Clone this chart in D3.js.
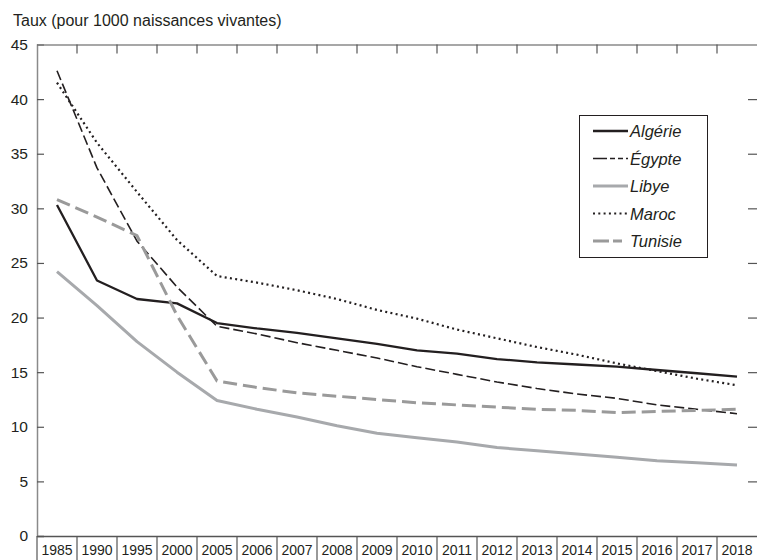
<!DOCTYPE html>
<html><head><meta charset="utf-8">
<script src="https://cdn.jsdelivr.net/npm/d3@7"></script>
<style>
body{margin:0;background:#fff;}
text{font-family:"Liberation Sans",Arial,sans-serif;}
</style></head><body>
<svg id="c" width="757" height="560"></svg>
<script>
const years = ["1985","1990","1995","2000","2005","2006","2007","2008","2009","2010","2011","2012","2013","2014","2015","2016","2017","2018"];
const algerie = [30.3,23.4,21.7,21.3,19.5,19.0,18.6,18.1,17.6,17.0,16.7,16.2,15.9,15.7,15.5,15.2,14.9,14.6];
const egypte  = [42.6,33.7,27.0,22.8,19.2,18.5,17.7,17.0,16.3,15.5,14.8,14.1,13.5,13.0,12.6,12.0,11.6,11.2];
const libye   = [24.2,21.1,17.8,15.0,12.4,11.6,10.9,10.1,9.4,9.0,8.6,8.1,7.8,7.5,7.2,6.9,6.7,6.5];
const maroc   = [41.5,36.0,31.5,27.1,23.8,23.2,22.5,21.7,20.7,19.9,18.9,18.1,17.3,16.6,15.8,15.1,14.4,13.8];
const tunisie = [30.8,29.2,27.5,20.2,14.2,13.6,13.1,12.8,12.5,12.2,12.0,11.8,11.6,11.5,11.3,11.4,11.5,11.6];
const yTicks = [0,5,10,15,20,25,30,35,40,45];
const seriesNames = ["Algérie","Égypte","Libye","Maroc","Tunisie"];
const yTitle = "Taux (pour 1000 naissances vivantes)";

const series = [
  {name:seriesNames[0], values:algerie, color:"#231f20", width:2.3, dash:null, ldash:null},
  {name:seriesNames[1], values:egypte, color:"#231f20", width:1.6, dash:"10,4", ldash:"14,3,5,3,5,3"},
  {name:seriesNames[2], values:libye, color:"#a7a9ac", width:3, dash:null, ldash:null},
  {name:seriesNames[3], values:maroc, color:"#231f20", width:2.2, dash:"2,3.3", ldash:"2,3.3"},
  {name:seriesNames[4], values:tunisie, color:"#9a9a9a", width:3, dash:"14,6", ldash:"16,4,9,6"}
];

const L=37, R=757, T=44.5, B=536;
const svg = d3.select("#c");
const x = d3.scaleBand().domain(years).range([L,R]);
const y = d3.scaleLinear().domain([0,45]).range([B,T]);

// title
svg.append("text").attr("x",13).attr("y",26).attr("font-size",16).attr("fill","#231f20").text(yTitle);

// left axis
const gl = svg.append("g").attr("transform",`translate(${L},0)`)
  .call(d3.axisLeft(y).tickValues(yTicks).tickSize(-7).tickPadding(9));
gl.select(".domain").attr("stroke","#8a8a8a").attr("stroke-width",1.5);
gl.selectAll(".tick line").attr("stroke","#555").attr("stroke-width",1.2);
gl.selectAll(".tick text").attr("font-size",15.5).attr("fill","#231f20").attr("font-family","Liberation Sans, Arial, sans-serif").attr("x",-9);

// right axis ticks
const gr = svg.append("g").attr("transform",`translate(${R},0)`)
  .call(d3.axisRight(y).tickValues(yTicks.filter(v=>v>0&&v<45)).tickSize(-9).tickFormat(""));
gr.select(".domain").remove();
gr.selectAll(".tick line").attr("stroke","#555").attr("stroke-width",1.2);

// top axis
const boundaries = years.slice(1);
const gt = svg.append("g").attr("transform",`translate(0,${T})`)
  .call(d3.axisTop(x).tickSize(0).tickFormat(""));
gt.select(".domain").attr("stroke","#8a8a8a").attr("stroke-width",1.5);
gt.selectAll(".tick").remove();
gt.selectAll("line.tb").data(boundaries).join("line").attr("class","tb")
  .attr("x1",d=>x(d)).attr("x2",d=>x(d)).attr("y1",0).attr("y2",9)
  .attr("stroke","#555").attr("stroke-width",1.2);

// bottom axis
const gb = svg.append("g").attr("transform",`translate(0,${B})`)
  .call(d3.axisBottom(x).tickSize(0).tickPadding(9));
gb.select(".domain").attr("stroke","#555").attr("stroke-width",1.5);
gb.selectAll(".tick text").attr("font-size",14).attr("fill","#231f20").attr("font-family","Liberation Sans, Arial, sans-serif");
gb.selectAll("line.sep").data(years).join("line").attr("class","sep")
  .attr("x1",d=>x(d)).attr("x2",d=>x(d)).attr("y1",0).attr("y2",26)
  .attr("stroke","#555").attr("stroke-width",1.2);

// lines
const line = d3.line().x((d,i)=>x(years[i])+x.bandwidth()/2).y(d=>y(d));
series.forEach(s=>{
  svg.append("path").datum(s.values).attr("d",line)
    .attr("fill","none").attr("stroke",s.color).attr("stroke-width",s.width)
    .attr("stroke-dasharray",s.dash).attr("stroke-linejoin","round");
});

// legend
const lg = svg.append("g");
lg.append("rect").attr("x",579.5).attr("y",115.5).attr("width",128).attr("height",142)
  .attr("fill","#fff").attr("stroke","#231f20").attr("stroke-width",1);
series.forEach((s,i)=>{
  const yy = 131 + i*27.5;
  lg.append("line").attr("x1",593).attr("x2",628).attr("y1",yy).attr("y2",yy)
    .attr("stroke",s.color).attr("stroke-width",s.width).attr("stroke-dasharray",s.ldash);
  lg.append("text").attr("x",630).attr("y",yy+6).attr("font-size",16.5).attr("font-style","italic")
    .attr("fill","#231f20").text(s.name);
});
</script></body></html>
